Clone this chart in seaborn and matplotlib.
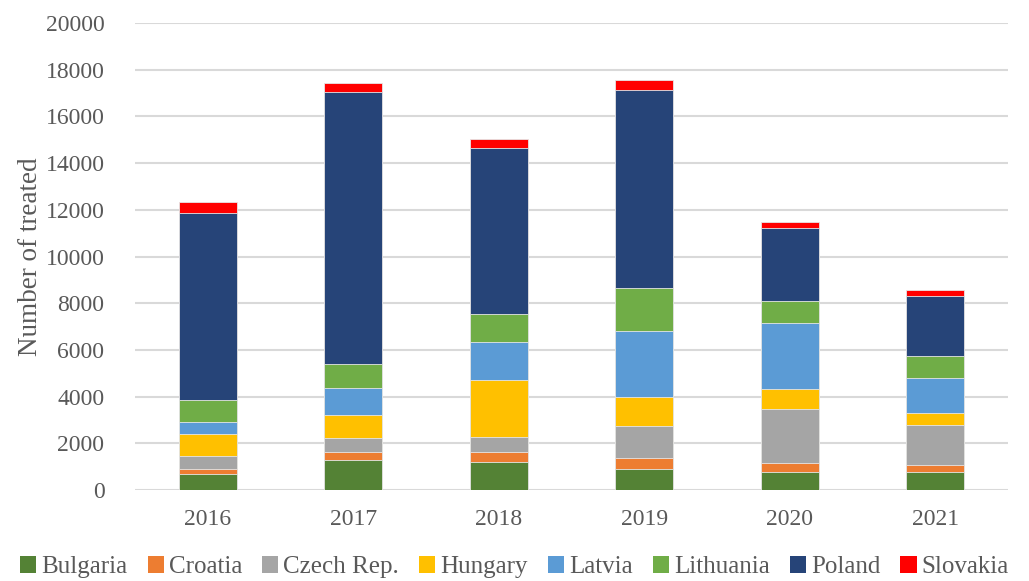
import pandas as pd
import seaborn as sns
import matplotlib.pyplot as plt
from matplotlib.patches import Patch

# dados (número de tratados por país e ano)
years = ["2016", "2017", "2018", "2019", "2020", "2021"]
countries = ["Bulgaria", "Croatia", "Czech Rep.", "Hungary", "Latvia", "Lithuania", "Poland", "Slovakia"]
bulgaria = [690, 1300, 1210, 900, 780, 790]
croatia = [200, 340, 430, 480, 360, 270]
czech = [580, 600, 640, 1360, 2310, 1710]
hungary = [940, 960, 2450, 1260, 880, 510]
latvia = [490, 1170, 1630, 2810, 2840, 1500]
lithuania = [960, 1030, 1170, 1830, 930, 980]
poland = [8020, 11650, 7120, 8500, 3140, 2570]
slovakia = [460, 370, 390, 420, 230, 230]
colors = ["#548235", "#ED7D31", "#A5A5A5", "#FFC000", "#5B9BD5", "#70AD47", "#264478", "#FF0000"]

df = pd.DataFrame({"year": years, "Bulgaria": bulgaria, "Croatia": croatia,
                   "Czech Rep.": czech, "Hungary": hungary, "Latvia": latvia,
                   "Lithuania": lithuania, "Poland": poland, "Slovakia": slovakia})
cum = df[countries].cumsum(axis=1)

sns.set_style("white")
plt.rcParams['font.family'] = ['Liberation Serif', 'DejaVu Serif']
grey = "#595959"

fig = plt.figure(figsize=(10.29, 5.81), dpi=100)
ax = fig.add_axes([0.1312, 0.1566, 0.8484, 0.8038])

# barras empilhadas: desenhar totais acumulados do topo para a base
for country, col in reversed(list(zip(countries, colors))):
    sns.barplot(x=df["year"], y=cum[country], color=col, width=0.4, saturation=1,
                edgecolor="#e6e6e6", linewidth=0.6, ax=ax, zorder=3)

ax.set_ylim(0, 20000)
ax.set_xlim(-0.5, 5.5)
ax.set_yticks(range(0, 20001, 2000))
ax.yaxis.grid(True, color="#d9d9d9", linewidth=1.5, zorder=0)
ax.set_axisbelow(True)
for s in ax.spines.values():
    s.set_visible(False)
ax.tick_params(axis="both", length=0, labelsize=17, labelcolor=grey)
ax.tick_params(axis="x", pad=14)
ax.tick_params(axis="y", pad=22)
ax.set_xlabel("")
ax.set_ylabel("Number of treated", fontsize=19.5, color=grey, labelpad=2)

handles = [Patch(facecolor=c, edgecolor="none") for c in colors]
fig.legend(handles, countries, loc="center", bbox_to_anchor=(0.5, 0.024), ncol=8,
           frameon=False, fontsize=18, labelcolor=grey, handlelength=0.65,
           handleheight=0.7, handletextpad=0.2, columnspacing=0.8, borderaxespad=0)

plt.savefig("out.png", dpi=100)
